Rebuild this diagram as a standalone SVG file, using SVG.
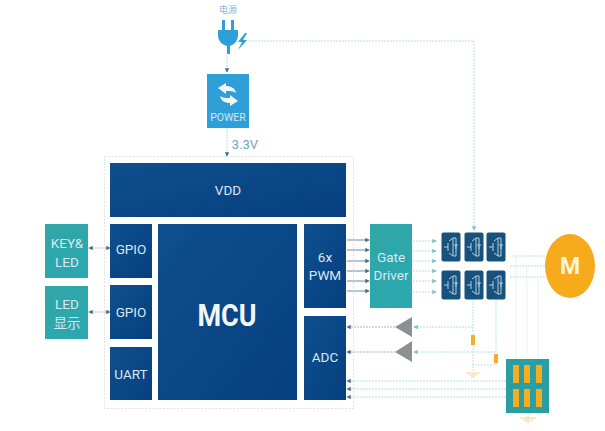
<svg xmlns="http://www.w3.org/2000/svg" width="605" height="431" viewBox="0 0 605 431">
<style>
.t{font-family:Roboto,"Noto Sans CJK SC",sans-serif;text-anchor:middle}
.w{fill:#d9e8f1;font-size:13.500px}
.b{fill:url(#blue)}
.g{fill:url(#teal)}
.c{fill:none;stroke:#b5e0e4;stroke-width:1;stroke-dasharray:2 1}
.f{fill:none;stroke:#e4f3f6;stroke-width:1}
.d{fill:none;stroke:#b5b5b5;stroke-width:1;stroke-dasharray:2 1}
.o{fill:#f6ad22}
.tri{fill:#8d9093}
.gnd{fill:none;stroke:#f6d48e;stroke-width:1.200}
</style>
<defs>
<linearGradient id="blue" x1="0" y1="0" x2="1" y2="1"><stop offset="0" stop-color="#0f4f8d"/><stop offset="1" stop-color="#063f7f"/></linearGradient>
<linearGradient id="teal" x1="0" y1="0" x2="1" y2="1"><stop offset="0" stop-color="#31a6a6"/><stop offset="1" stop-color="#2aa8b0"/></linearGradient>
<marker id="a" viewBox="0 0 6 6" refX="5" refY="3" markerWidth="4.500" markerHeight="4.500" orient="auto-start-reverse"><path d="M0 0L6 3L0 6z" fill="#45708a"/></marker>
<marker id="l" viewBox="0 0 6 6" refX="5" refY="3" markerWidth="4.500" markerHeight="4.500" orient="auto-start-reverse"><path d="M0 0L6 3L0 6z" fill="#7cc2cf"/></marker>
<symbol id="fet" viewBox="0 0 20 30"><rect x=".5" y=".5" width="19" height="29" rx="2" fill="#17527f"/><path d="M3 15H7M7 11V19M8 9L12 6V24L8 21M12 6H15V24H12M13 13H17M15 13L15 17" fill="none" stroke="#b4d0e0" stroke-width="1"/></symbol>
</defs>
<rect width="605" height="431" fill="#fff"/>
<g id="connectors">
<path class="c" d="M227 50V72" marker-end="url(#a)"/>
<path class="c" d="M227 128V156" marker-end="url(#a)"/>
<path class="c" d="M249 41H474V230" marker-end="url(#l)"/>
<path class="d" d="M89 248H110" marker-start="url(#a)" marker-end="url(#a)"/>
<path class="d" d="M89 312H110" marker-start="url(#a)" marker-end="url(#a)"/>
<g stroke="#6b8ea5" stroke-width="1" fill="none">
<path d="M347 240H369" marker-end="url(#a)"/><path d="M347 250H369" marker-end="url(#a)"/><path d="M347 261H369" marker-end="url(#a)"/><path d="M347 271H369" marker-end="url(#a)"/><path d="M347 281H369" marker-end="url(#a)"/><path d="M347 291H369" marker-end="url(#a)"/>
</g>
<path class="c" d="M413 241H436" marker-end="url(#l)"/><path class="c" d="M413 251H436" marker-end="url(#l)"/><path class="c" d="M413 261H436" marker-end="url(#l)"/><path class="c" d="M413 271H436" marker-end="url(#l)"/><path class="c" d="M413 281H436" marker-end="url(#l)"/><path class="c" d="M413 292H436" marker-end="url(#l)"/>
<path class="c" d="M513 256H545"/><path class="c" d="M510 266H545"/><path class="c" d="M510 277H545"/>
<path class="f" d="M516 256V359"/><path class="f" d="M527 266V359"/><path class="f" d="M538 277V359"/>
<path class="d" d="M395 327H347" marker-end="url(#a)"/><path class="d" d="M395 352H347" marker-end="url(#a)"/>
<path class="c" d="M473 327H414" marker-end="url(#l)"/><path class="c" d="M496 352H414" marker-end="url(#l)"/>
<path class="c" d="M473 300V372"/><path class="c" d="M496 300V365H473"/>
<path class="c" d="M506 381H347" marker-end="url(#a)"/><path class="c" d="M506 389H347" marker-end="url(#a)"/><path class="c" d="M506 397H347" marker-end="url(#a)"/>
<path class="c" d="M528 413V420"/>
</g>
<g id="mcu-board"><rect x="104.500" y="156.500" width="249" height="252" fill="none" stroke="#dde3e8" stroke-dasharray="2 1.500"/></g>
<g id="vdd"><rect class="b" x="110" y="163" width="236" height="54"/><text class="t w" x="228" y="195">VDD</text></g>
<g id="gpio1"><rect class="b" x="110" y="224" width="42" height="54"/><text class="t w" x="131" y="254">GPIO</text></g>
<g id="gpio2"><rect class="b" x="110" y="285" width="42" height="54"/><text class="t w" x="131" y="317">GPIO</text></g>
<g id="uart"><rect class="b" x="110" y="347" width="42" height="53"/><text class="t w" x="131" y="379">UART</text></g>
<g id="mcu"><rect class="b" x="158" y="224" width="139" height="176"/><text class="t" x="227" y="326" fill="#f2f6f9" font-size="32" font-weight="700" textLength="59" lengthAdjust="spacingAndGlyphs">MCU</text></g>
<g id="pwm"><rect class="b" x="304" y="224" width="42" height="84"/><text class="t w" x="325" y="262">6x</text><text class="t w" x="325" y="280">PWM</text></g>
<g id="adc"><rect class="b" x="304" y="316" width="42" height="84"/><text class="t w" x="325" y="362">ADC</text></g>
<g id="key-led"><rect class="g" x="45" y="224" width="43" height="54"/><text class="t w" x="67" y="248">KEY&amp;</text><text class="t w" x="67" y="267">LED</text></g>
<g id="led-display"><rect class="g" x="45" y="286" width="43" height="53"/><text class="t w" x="67" y="309">LED</text><text class="t w" x="67" y="328">显示</text></g>
<g id="gate-driver"><rect class="g" x="370" y="224" width="42" height="84"/><text class="t w" x="391" y="262">Gate</text><text class="t w" x="391" y="280">Driver</text></g>
<g id="mosfets">
<use href="#fet" x="441" y="232" width="20" height="30"/><use href="#fet" x="464" y="232" width="20" height="30"/><use href="#fet" x="486" y="232" width="20" height="30"/>
<use href="#fet" x="441" y="270" width="20" height="30"/><use href="#fet" x="464" y="270" width="20" height="30"/><use href="#fet" x="486" y="270" width="20" height="30"/>
</g>
<g id="motor"><ellipse cx="570" cy="266" rx="25" ry="32" fill="#f6ab1c"/><text class="t" x="570" y="274" fill="#fdf3de" font-size="23" font-weight="700">M</text></g>
<g id="power-label"><text class="t" x="228" y="13" fill="#86b6d6" font-size="9">电源</text></g>
<g id="plug"><path d="M222 20h3v10h-3zM231 20h3v10h-3z" fill="#2f9fd8"/><path d="M218 30H238V35C238 42 233 45 230 46V54H227V46C223 45 218 42 218 35Z" fill="#2f9fd8"/><path d="M245 33L238 42H242L238 50L247 40H243L247 33Z" fill="#2f9fd8"/></g>
<g id="power"><rect x="207" y="74" width="42" height="54" fill="#2f9fd8"/><path d="M218 88L226 83V86C231 86 235 88 236 93C233 91 230 91 226 91V94ZM238 101L230 106V103C225 103 221 101 220 96C223 98 226 98 230 98V95Z" fill="#f0f7fb"/><text class="t" x="228" y="121" fill="#cfe8f5" font-size="10.500">POWER</text></g>
<g id="voltage"><text class="t" x="245" y="149" fill="#6fa4c4" font-size="13">3.3V</text></g>
<g id="comparator1"><path class="tri" d="M395 327L412 317V337Z"/></g>
<g id="comparator2"><path class="tri" d="M395 352L412 341V362Z"/></g>
<g id="shunts"><rect class="o" x="471" y="335" width="4" height="10"/><rect class="o" x="494" y="354" width="4" height="9"/></g>
<g id="ground1"><path class="gnd" d="M466 373H480M469 375H477M471 377H475"/></g>
<g id="ground2"><path class="gnd" d="M520 418H536M523 420H533M526 422H530"/></g>
<g id="sensor"><rect x="506" y="359" width="43" height="54" fill="#2a9ea3"/>
<rect class="o" x="513" y="365" width="6" height="18"/><rect class="o" x="524" y="365" width="6" height="18"/><rect class="o" x="536" y="365" width="6" height="18"/>
<rect class="o" x="513" y="389" width="6" height="18"/><rect class="o" x="524" y="389" width="6" height="18"/><rect class="o" x="536" y="389" width="6" height="18"/></g>
</svg>
